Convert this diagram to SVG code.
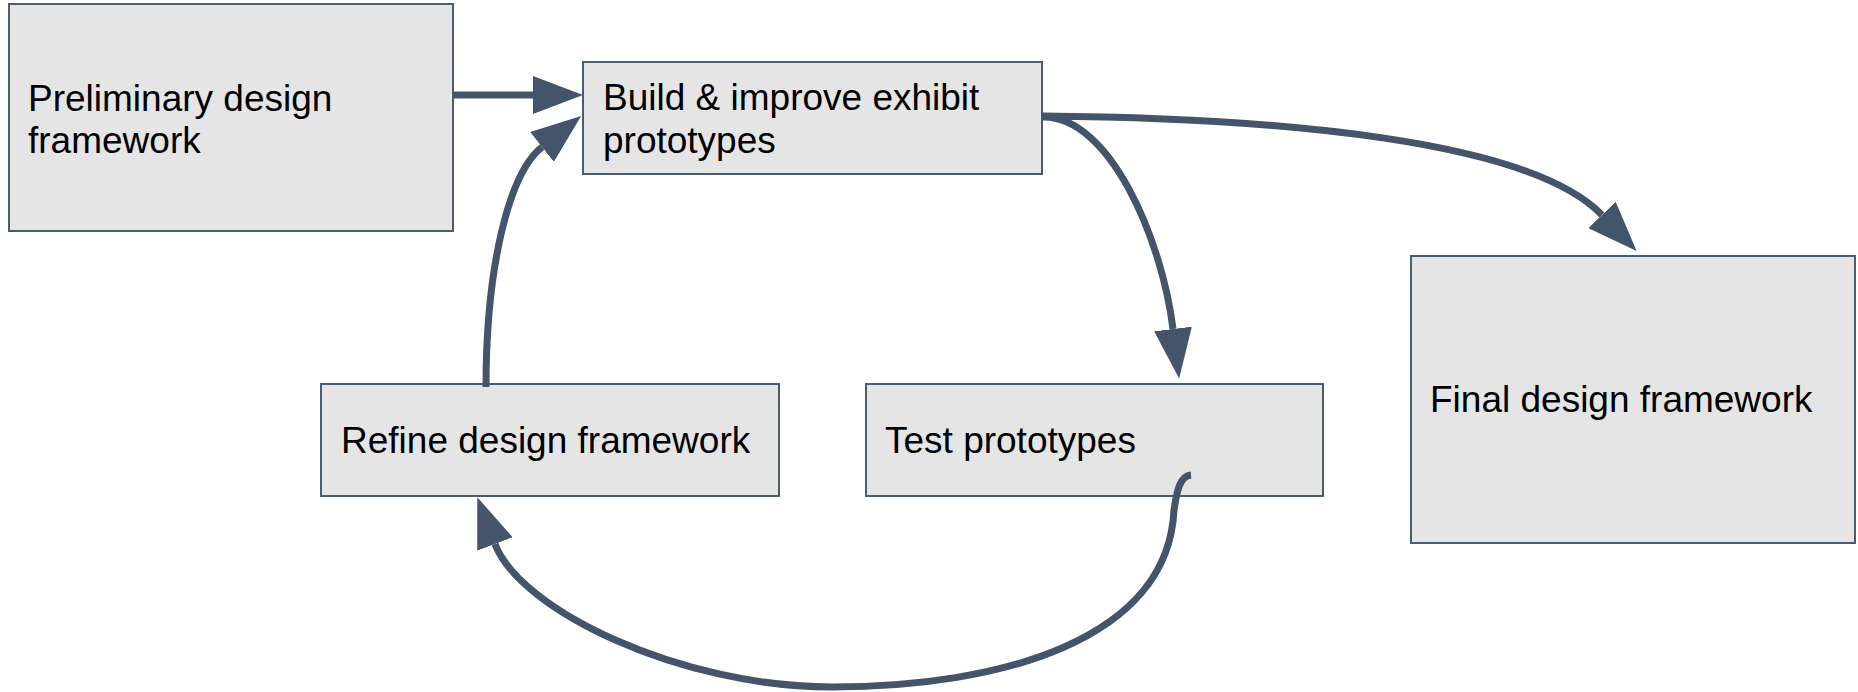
<svg xmlns="http://www.w3.org/2000/svg" width="1858" height="692" viewBox="0 0 1858 692">
  <style>
    .box { fill: #e5e5e5; stroke: #4d5b70; stroke-width: 2; }
    .label { font-family: "Liberation Sans", Arial, sans-serif; font-size: 37px; fill: #000000; }
    .conn { fill: none; stroke: #44546a; stroke-width: 7; marker-end: url(#head); }
  </style>
  <defs>
    <marker id="head" markerUnits="userSpaceOnUse" viewBox="0 0 50 38" markerWidth="50" markerHeight="38" refX="0" refY="19" orient="auto">
      <path d="M0,0 L50,19 L0,38 Z" fill="#44546a"/>
    </marker>
  </defs>
  <rect width="1858" height="692" fill="#ffffff"/>

  <g id="preliminary">
    <rect class="box" x="9" y="4" width="444" height="227"/>
    <text class="label" x="28" y="111">Preliminary design</text>
    <text class="label" x="28" y="153">framework</text>
  </g>

  <g id="build">
    <rect class="box" x="583" y="62" width="459" height="112"/>
    <text class="label" x="603" y="110">Build &amp; improve exhibit</text>
    <text class="label" x="603" y="153">prototypes</text>
  </g>

  <g id="refine">
    <rect class="box" x="321" y="384" width="458" height="112"/>
    <text class="label" x="341" y="453">Refine design framework</text>
  </g>

  <g id="test">
    <rect class="box" x="866" y="384" width="457" height="112"/>
    <text class="label" x="885" y="453">Test prototypes</text>
  </g>

  <g id="final">
    <rect class="box" x="1411" y="256" width="444" height="287"/>
    <text class="label" x="1430" y="412">Final design framework</text>
  </g>

  <g id="connectors">
    <!-- preliminary -> build -->
    <path class="conn" d="M453,95 L533,95"/>
    <!-- refine -> build -->
    <path class="conn" d="M486,387 C486,270 508,174 542,147"/>
    <!-- build -> test -->
    <path class="conn" d="M1042,117 C1110,115 1162,240 1173,329"/>
    <!-- build -> final -->
    <path class="conn" d="M1042,116 C1280,118 1530,140 1602,215"/>
    <!-- test -> refine -->
    <path class="conn" d="M1191,475 C1180,476 1177,490 1174,510 C1168,640 1000,687 832,687 C680,687 520,610 495,544"/>
  </g>
</svg>
